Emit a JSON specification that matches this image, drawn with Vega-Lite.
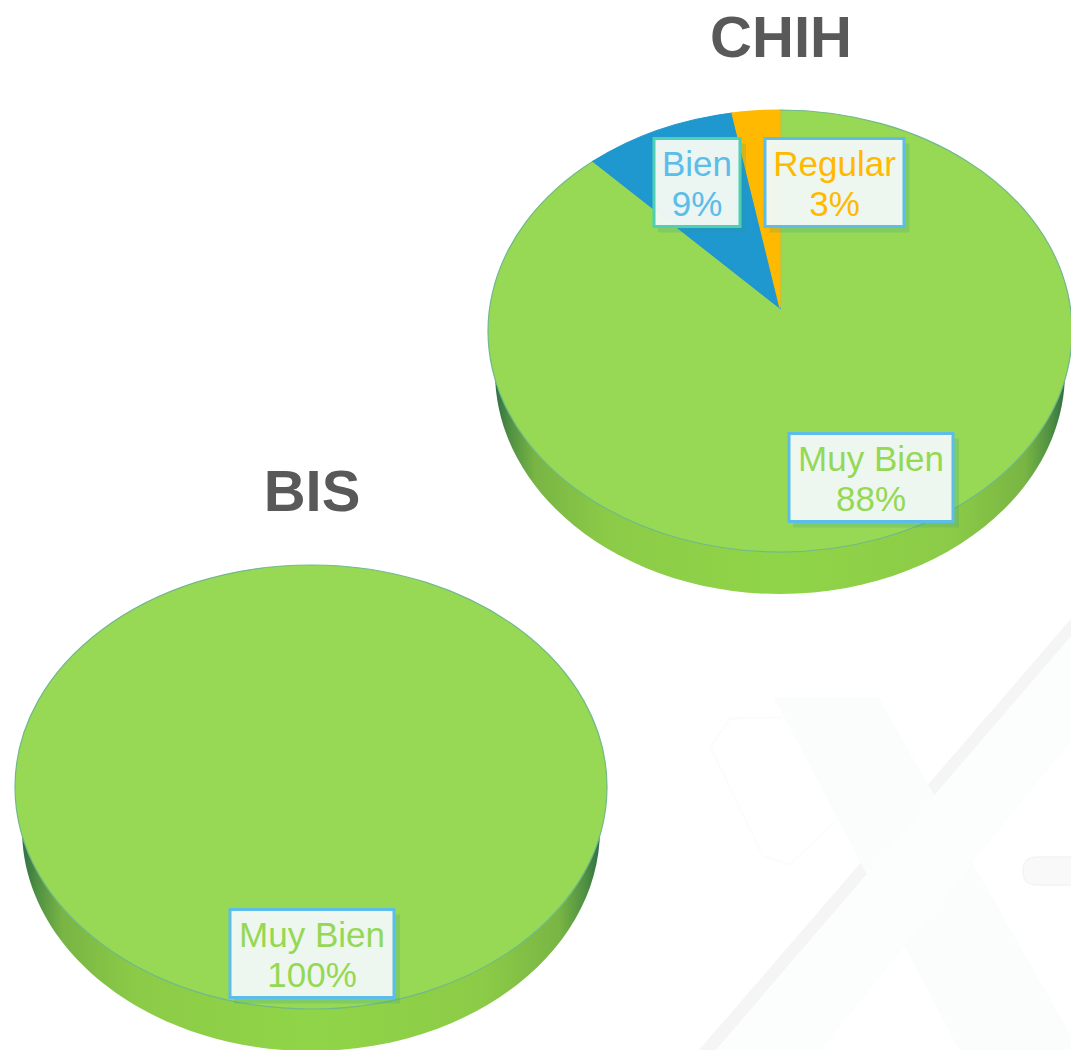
{
"$schema":"https://vega.github.io/schema/vega-lite/v6.json",
"width":1071,"height":1050,"padding":0,"autosize":{"type":"none"},"background":"white",
"config":{"view":{"stroke":null}},
"datasets":{
 "estados":[{"estado":"CHIH"},{"estado":"BIS"}],
 "respuestas":[
  {"estado":"CHIH","respuesta":"Muy Bien","pct":88,"etiqueta":"88%"},
  {"estado":"CHIH","respuesta":"Bien","pct":9,"etiqueta":"9%"},
  {"estado":"CHIH","respuesta":"Regular","pct":3,"etiqueta":"3%"},
  {"estado":"BIS","respuesta":"Muy Bien","pct":100,"etiqueta":"100%"}],
 "marca":[{"elemento":"brazo"},{"elemento":"banda"},{"elemento":"linea"},{"elemento":"pastilla"},{"elemento":"contorno"}]
},
"layer":[
 {"data":{"name":"marca"},
  "mark":{"type":"point","filled":true,"opacity":1,"strokeWidth":1.5,"size":4},
  "encoding":{
   "x":{"field":"elemento","type":"nominal","axis":null,"scale":{"type":"point","padding":0,"range":[880,880]}},
   "y":{"field":"elemento","type":"nominal","axis":null,"scale":{"type":"point","padding":0,"range":[840,840]}},
   "order":{"field":"elemento","sort":"descending"},
   "shape":{"field":"elemento","type":"nominal","legend":null,"scale":{"domain":["brazo","banda","linea","pastilla","contorno"],"range":[
     "M-105 -142 L-2 -142 L191 197 L191 210 L80 210 Z",
     "M191 -202 L191 -100 L-60 210 L-162 210 Z",
     "M191 -220 L191 -205 L-165 210 L-180 210 Z",
     "M200 17 L157 17 Q143 17 143 31 Q143 45 157 45 L200 45 Z",
     "M-100 -123 L-150 -122 L-170 -93 L-117 17 L-90 25 L-43 -20 L-43 -21 L-90 24 L-117 16 L-169 -93 L-150 -121 L-100 -122 Z"]}},
   "fill":{"field":"elemento","type":"nominal","legend":null,"scale":{"domain":["brazo","banda","linea","pastilla","contorno"],"range":["#fafdfb","#fcfdfd","#f5f5f5","#f8f9f8","#fcfcfc"]}},
   "stroke":{"field":"elemento","type":"nominal","legend":null,"scale":{"domain":["brazo","banda","linea","pastilla","contorno"],"range":["#fafdfb","#fcfdfd","#f5f5f5","#f3f4f3","#fcfcfc"]}}
  }},
 {"data":{"name":"estados"},
  "mark":{"type":"point","filled":true,"opacity":1,"size":4,"strokeWidth":0,
   "fill":{"gradient":"linear","x1":0,"y1":0,"x2":1,"y2":0,"stops":[
    {"offset":0,"color":"#2f6f45"},{"offset":0.025,"color":"#4f8f42"},{"offset":0.07,"color":"#78b544"},{"offset":0.2,"color":"#8ccb47"},{"offset":0.5,"color":"#90d548"},{"offset":0.8,"color":"#8ccb47"},{"offset":0.93,"color":"#78b544"},{"offset":0.975,"color":"#4f8f42"},{"offset":1,"color":"#2f6f45"}]}},
  "encoding":{
   "x":{"field":"estado","type":"nominal","axis":null,"scale":{"type":"point","padding":0,"domain":["BIS","CHIH"],"range":[311,780]}},
   "y":{"field":"estado","type":"nominal","axis":null,"scale":{"type":"point","padding":0,"domain":["BIS","CHIH"],"range":[787,331]}},
   "shape":{"field":"estado","type":"nominal","legend":null,"scale":{"domain":["BIS","CHIH"],"range":[
     "M-289 42 A289 222 0 1 0 289 42 A289 222 0 1 0 -289 42 Z",
     "M-285 41 A285 222 0 1 0 285 41 A285 222 0 1 0 -285 41 Z"]}}
  }},
 {"data":{"name":"respuestas"},
  "mark":{"type":"point","filled":true,"opacity":1,"size":4,"strokeWidth":1.2},
  "encoding":{
   "x":{"field":"estado","type":"nominal","axis":null,"scale":{"type":"point","padding":0,"domain":["BIS","CHIH"],"range":[311,780]}},
   "y":{"field":"estado","type":"nominal","axis":null,"scale":{"type":"point","padding":0,"domain":["BIS","CHIH"],"range":[787,331]}},
   "shape":{"field":"pct","type":"nominal","legend":null,"scale":{"domain":[3,9,88,100],"range":[
     "M0 -23 L-48 -218 A292 221 0 0 1 0 -221 Z",
     "M0 -23 L-187 -169.7 A292 221 0 0 1 -48 -218 Z",
     "M0 -23 L0 -221 A292 221 0 1 1 -187 -169.7 Z",
     "M-296 0 A296 222 0 1 1 296 0 A296 222 0 1 1 -296 0 Z"]}},
   "fill":{"field":"respuesta","type":"nominal","legend":null,"scale":{"domain":["Muy Bien","Bien","Regular"],"range":["#97d955","#1f97cf","#ffb900"]}},
   "stroke":{"field":"respuesta","type":"nominal","legend":null,"scale":{"domain":["Muy Bien","Bien","Regular"],"range":["#71b98a","#1f97cf","#ffb900"]}}
  }},
 {"data":{"name":"respuestas"},
  "mark":{"type":"point","filled":true,"opacity":0.2,"size":4,"strokeWidth":0,"fill":"#2f9a8a"},
  "encoding":{
   "x":{"field":"pct","type":"quantitative","axis":null,"scale":{"domain":[3,9,88,100],"range":[834.5,697,871,312]}},
   "y":{"field":"pct","type":"quantitative","axis":null,"scale":{"domain":[3,9,88,100],"range":[182.5,182.5,477.5,953.5]}},
   "shape":{"field":"respuesta","type":"nominal","legend":null,"scale":{"domain":["Muy Bien","Bien","Regular"],"range":[
     "M-78 -39 H88 V50 H-78 Z","M-39 -39 H49 V50 H-39 Z","M-65 -39 H75 V50 H-65 Z"]}}
  }},
 {"data":{"name":"respuestas"},
  "mark":{"type":"point","filled":true,"opacity":1,"fillOpacity":0.97,"size":4,"strokeWidth":3,"fill":"#f2f8f4"},
  "encoding":{
   "x":{"field":"pct","type":"quantitative","axis":null,"scale":{"domain":[3,9,88,100],"range":[834.5,697,871,312]}},
   "y":{"field":"pct","type":"quantitative","axis":null,"scale":{"domain":[3,9,88,100],"range":[182.5,182.5,477.5,953.5]}},
   "shape":{"field":"respuesta","type":"nominal","legend":null,"scale":{"domain":["Muy Bien","Bien","Regular"],"range":[
     "M-82 -44 H82 V44 H-82 Z","M-43 -44 H43 V44 H-43 Z","M-69.5 -44 H69.5 V44 H-69.5 Z"]}},
   "stroke":{"field":"respuesta","type":"nominal","legend":null,"scale":{"domain":["Muy Bien","Bien","Regular"],"range":["#5cbde8","#4fd0b4","#5cbde8"]}}
  }},
 {"data":{"name":"respuestas"},
  "mark":{"type":"text","font":"Liberation Sans","fontSize":35,"baseline":"middle","align":"center","dy":-18},
  "encoding":{
   "x":{"field":"pct","type":"quantitative","axis":null,"scale":{"domain":[3,9,88,100],"range":[834.5,697,871,312]}},
   "y":{"field":"pct","type":"quantitative","axis":null,"scale":{"domain":[3,9,88,100],"range":[182.5,182.5,477.5,953.5]}},
   "text":{"field":"respuesta","type":"nominal"},
   "color":{"field":"respuesta","type":"nominal","legend":null,"scale":{"domain":["Muy Bien","Bien","Regular"],"range":["#95d855","#5cbde8","#ffb900"]}}
  }},
 {"data":{"name":"respuestas"},
  "mark":{"type":"text","font":"Liberation Sans","fontSize":35,"baseline":"middle","align":"center","dy":22},
  "encoding":{
   "x":{"field":"pct","type":"quantitative","axis":null,"scale":{"domain":[3,9,88,100],"range":[834.5,697,871,312]}},
   "y":{"field":"pct","type":"quantitative","axis":null,"scale":{"domain":[3,9,88,100],"range":[182.5,182.5,477.5,953.5]}},
   "text":{"field":"etiqueta","type":"nominal"},
   "color":{"field":"respuesta","type":"nominal","legend":null,"scale":{"domain":["Muy Bien","Bien","Regular"],"range":["#95d855","#5cbde8","#ffb900"]}}
  }},
 {"data":{"name":"estados"},
  "mark":{"type":"text","font":"Liberation Sans","fontSize":58,"fontWeight":"bold","baseline":"middle","align":"center","color":"#595959"},
  "encoding":{
   "x":{"field":"estado","type":"nominal","axis":null,"scale":{"type":"point","padding":0,"domain":["BIS","CHIH"],"range":[312,781]}},
   "y":{"field":"estado","type":"nominal","axis":null,"scale":{"type":"point","padding":0,"domain":["BIS","CHIH"],"range":[494,40]}},
   "text":{"field":"estado","type":"nominal"}
  }}
],
"resolve":{"scale":{"x":"independent","y":"independent","shape":"independent","fill":"independent","stroke":"independent","color":"independent"}}
}
